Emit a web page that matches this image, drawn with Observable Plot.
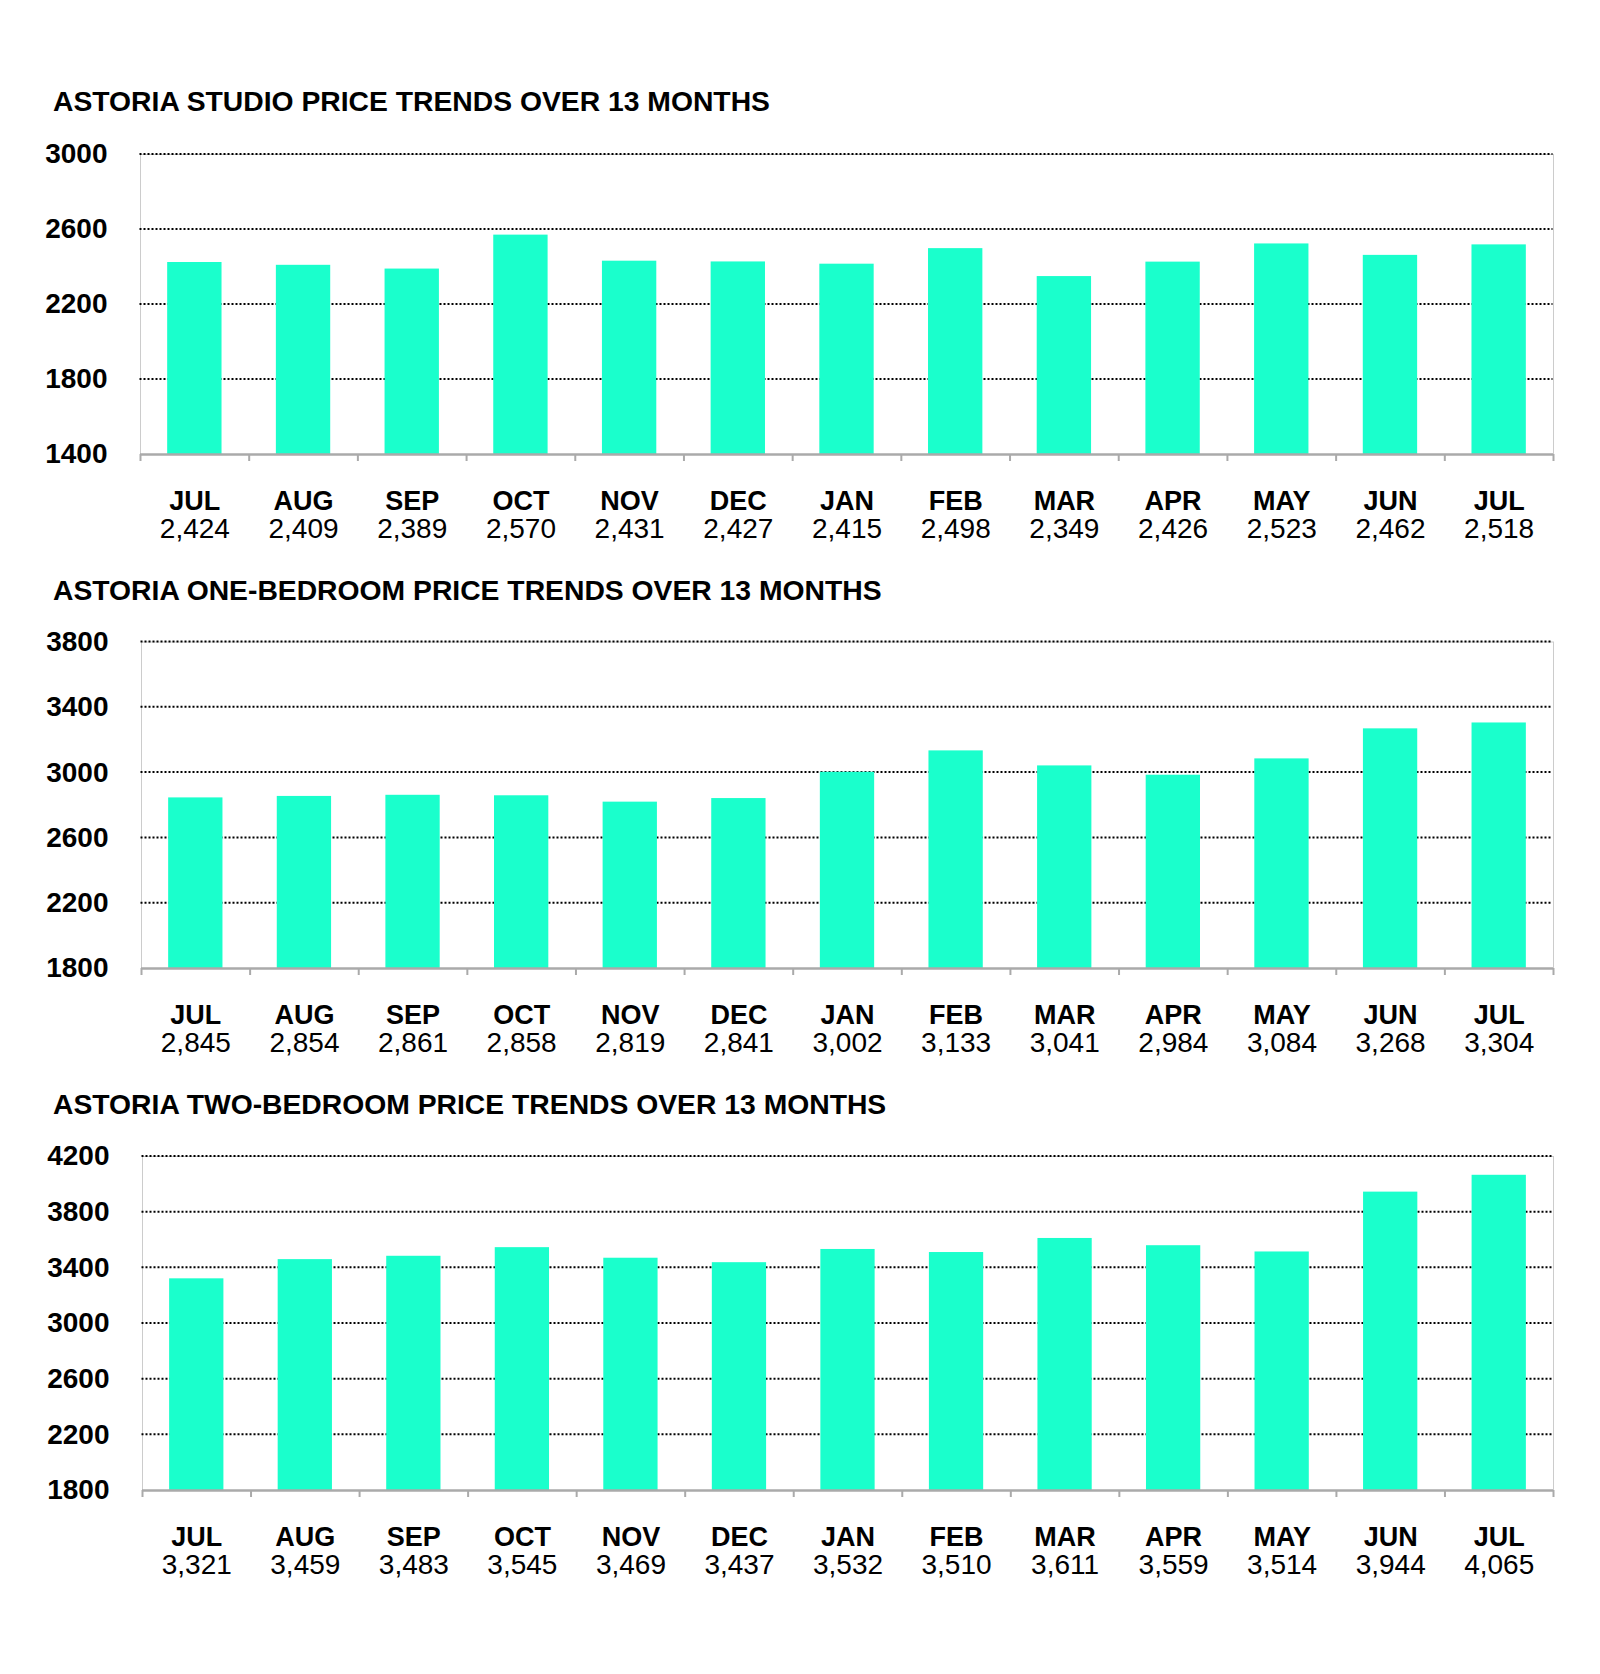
<!DOCTYPE html>
<html>
<head>
<meta charset="utf-8">
<script src="https://cdn.jsdelivr.net/npm/d3@7"></script>
<script src="https://cdn.jsdelivr.net/npm/@observablehq/plot@0.6"></script>
<style>
  html, body { margin: 0; padding: 0; background: #fff; }
  #root { position: relative; width: 1600px; height: 1674px; font-family: "Liberation Sans", Arial, sans-serif; }
  .title { position: absolute; font-weight: bold; font-size: 28.3px; line-height: 1; color: #000; white-space: nowrap; }
  .chart { position: absolute; left: 0; }
</style>
</head>
<body>
<div id="root"></div>
<script>
const months = ["JUL","AUG","SEP","OCT","NOV","DEC","JAN","FEB","MAR","APR","MAY","JUN","JUL"];
const studio = [2424,2409,2389,2570,2431,2427,2415,2498,2349,2426,2523,2462,2518];
const oneBed = [2845,2854,2861,2858,2819,2841,3002,3133,3041,2984,3084,3268,3304];
const twoBed = [3321,3459,3483,3545,3469,3437,3532,3510,3611,3559,3514,3944,4065];
const studioTicks = [1400,1800,2200,2600,3000];
const oneBedTicks = [1800,2200,2600,3000,3400,3800];
const twoBedTicks = [1800,2200,2600,3000,3400,3800,4200];

const charts = [
  {title: "ASTORIA STUDIO PRICE TRENDS OVER 13 MONTHS", values: studio, ticks: studioTicks,
   titleTop: 87, svgTop: 120, marginTop: 34, plotH: 300, marginBottom: 100, marginLeft: 140},
  {title: "ASTORIA ONE-BEDROOM PRICE TRENDS OVER 13 MONTHS", values: oneBed, ticks: oneBedTicks,
   titleTop: 576, svgTop: 612, marginTop: 29.5, plotH: 326.5, marginBottom: 90, marginLeft: 141},
  {title: "ASTORIA TWO-BEDROOM PRICE TRENDS OVER 13 MONTHS", values: twoBed, ticks: twoBedTicks,
   titleTop: 1090, svgTop: 1126, marginTop: 30, plotH: 334, marginBottom: 100, marginLeft: 142}
];

const root = document.getElementById("root");
const W = 1600, marginRight = 47;
const fmt = d3.format(",");
const idx = d3.range(months.length);

for (const c of charts) {
  const t = document.createElement("div");
  t.className = "title";
  t.style.left = "53px";
  t.style.top = c.titleTop + "px";
  t.textContent = c.title;
  root.appendChild(t);

  const data = idx.map(i => ({i, month: months[i], value: c.values[i]}));
  const ymin = c.ticks[0], ymax = c.ticks[c.ticks.length - 1];
  const step = (W - c.marginLeft - marginRight) / months.length;

  const svg = Plot.plot({
    width: W,
    height: c.marginTop + c.plotH + c.marginBottom,
    marginTop: c.marginTop,
    marginBottom: c.marginBottom,
    marginLeft: c.marginLeft,
    marginRight,
    style: {fontFamily: '"Liberation Sans", Arial, sans-serif', background: "white", overflow: "visible"},
    x: {type: "band", domain: idx, paddingInner: 0.5, paddingOuter: 0.25, round: false, label: null},
    y: {domain: [ymin, ymax], label: null},
    marks: [
      Plot.frame({stroke: "#cccccc", strokeWidth: 1}),
      Plot.gridY(c.ticks.slice(1), {stroke: "#000", strokeOpacity: 1, strokeWidth: 2, strokeDasharray: "2 2", dx: -0.5, dy: -0.5}),
      Plot.barY(data, {x: "i", y1: ymin, y2: "value", fill: "#1affcc"}),
      Plot.ruleY([ymin], {stroke: "#aaaaaa", strokeWidth: 2.5}),
      Plot.axisX({ticks: idx, tickSize: 7, text: null, stroke: "#aaaaaa", strokeWidth: 2, dx: -step / 2, label: null}),
      Plot.axisX({ticks: [idx[idx.length - 1]], tickSize: 7, text: null, stroke: "#aaaaaa", strokeWidth: 2, dx: step / 2, label: null}),
      Plot.axisX({ticks: idx, tickSize: 0, tickPadding: 36, tickFormat: i => months[i],
                  fontSize: 27, fontWeight: "bold", fill: "#000", label: null}),
      Plot.text(data, {x: "i", frameAnchor: "bottom", lineAnchor: "top", dy: 64,
                       text: d => fmt(d.value), fontSize: 28, fill: "#000"}),
      Plot.axisY({ticks: c.ticks, tickSize: 0, tickPadding: 33, tickFormat: d => String(d),
                  fontSize: 28, fontWeight: "bold", fill: "#000", label: null})
    ]
  });
  const wrap = document.createElement("div");
  wrap.className = "chart";
  wrap.style.top = c.svgTop + "px";
  wrap.appendChild(svg);
  root.appendChild(wrap);
}
</script>
</body>
</html>
